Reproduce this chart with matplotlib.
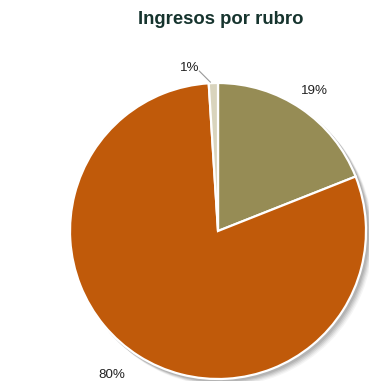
import numpy as np
import matplotlib
matplotlib.use("Agg")
import matplotlib.pyplot as plt

categories = ["Rubro A", "Rubro B", "Rubro C"]
values = [19, 80, 1]
pct_labels = ["19%", "80%", "1%"]
colors = ["#968C55", "#C05A0A", "#D9D4BD"]

W, H = 369, 381
fig = plt.figure(figsize=(W / 100, H / 100), dpi=100)
ax = fig.add_axes([0, 0, 1, 1])

cx, cy, r = 218, H - 231, 148

# soft shadow
for i, (off, a) in enumerate([(6, 0.04), (5, 0.05), (4, 0.07), (3, 0.08), (2, 0.09)]):
    ax.pie([1], radius=r + 1, center=(cx + off, cy - off), colors=["#000000"],
           wedgeprops=dict(alpha=a, linewidth=0), frame=True)

wedges, _ = ax.pie(values, radius=r, center=(cx, cy), colors=colors,
                   startangle=90, counterclock=False, frame=True,
                   wedgeprops=dict(edgecolor="white", linewidth=1.6))

font = "Liberation Sans"
label_cfg = {0: (1.15, -0.5), 1: (1.21, -4), 2: (1.12, 8)}
for w, lab, (dist, dang) in zip(wedges, pct_labels, [label_cfg[i] for i in range(3)]):
    mid = np.deg2rad((w.theta1 + w.theta2) / 2 + dang)
    x = cx + dist * r * np.cos(mid)
    y = cy + dist * r * np.sin(mid)
    ax.text(x, y, lab, ha="center", va="center", fontsize=9.6,
            color="#222222", family=font)

# leader line for small slice
w = wedges[2]
mid = np.deg2rad((w.theta1 + w.theta2) / 2)
x0, y0 = cx + (r + 1) * np.cos(mid) - 3, cy + (r + 1) * np.sin(mid)
ax.plot([x0, x0 - 11], [y0, y0 + 11], color="#999999", lw=0.8)

ax.text(220.5, H - 20, "Ingresos por rubro", ha="center", va="center",
        fontsize=13.3, fontweight="bold", color="#16342E", family=font)

ax.set_xlim(0, W)
ax.set_ylim(0, H)
ax.set_aspect("auto")
ax.axis("off")
fig.savefig("out.png", dpi=100, facecolor="white")
